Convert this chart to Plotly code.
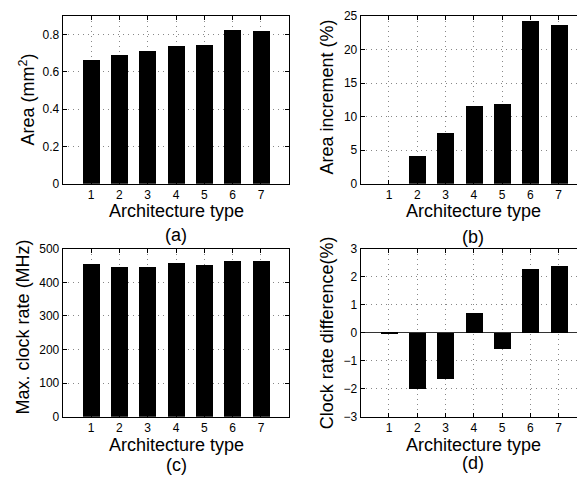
import plotly.graph_objects as go

arch_types = [1, 2, 3, 4, 5, 6, 7]
area_mm2 = [0.664, 0.690, 0.713, 0.739, 0.743, 0.823, 0.817]
area_increment_pct = [0.0, 4.1, 7.5, 11.6, 11.9, 24.2, 23.6]
max_clock_mhz = [454, 445, 447, 457, 451, 464, 464]
clock_diff_pct = [-0.04, -2.02, -1.64, 0.70, -0.56, 2.29, 2.39]

# page body has an 8px margin; figure is sized to fill the rest of the window
OFF = 8
W, H = 577, 470
FONT = "Liberation Sans, Arial, Helvetica, sans-serif"

# reference pixel boxes for each panel (left, right, top, bottom) in window coords
boxes = {
    "a": (62.7, 289.3, 9, 182),
    "b": (360.7, 587, 9, 182),
    "c": (62.7, 289.3, 249, 422),
    "d": (360.7, 587, 249, 422),
}

fig = go.Figure()

panels = [
    ("a", area_mm2, "x", "y", [0, 0.9], [0, 0.2, 0.4, 0.6, 0.8], ["0", "0.2", "0.4", "0.6", "0.8"]),
    ("b", area_increment_pct, "x2", "y2", [0, 25], [0, 5, 10, 15, 20, 25], None),
    ("c", max_clock_mhz, "x3", "y3", [0, 500], [0, 100, 200, 300, 400, 500], None),
    ("d", clock_diff_pct, "x4", "y4", [-3, 3], [-3, -2, -1, 0, 1, 2, 3], None),
]

for key, vals, xa, ya, yr, ytv, ytt in panels:
    fig.add_trace(go.Bar(x=arch_types, y=vals, width=0.6, xaxis=xa, yaxis=ya,
                         marker=dict(color="black", line=dict(width=0)),
                         showlegend=False))

common_axis = dict(showline=True, linecolor="black", linewidth=1, ticks="inside", ticklen=4,
                   tickcolor="black", showgrid=True, gridcolor="#888", griddash="1px,4px",
                   gridwidth=1, tickfont=dict(family=FONT, size=12, color="black"), zeroline=False)

layout = dict(width=W, height=H, margin=dict(l=0, r=0, t=0, b=0), paper_bgcolor="white",
              plot_bgcolor="white", bargap=0, font=dict(family=FONT, color="black"))

names = {"a": ("xaxis", "yaxis"), "b": ("xaxis2", "yaxis2"), "c": ("xaxis3", "yaxis3"), "d": ("xaxis4", "yaxis4")}
anchors = {"a": ("x", "y"), "b": ("x2", "y2"), "c": ("x3", "y3"), "d": ("x4", "y4")}

for key, vals, xa, ya, yr, ytv, ytt in panels:
    l, r, t, b = boxes[key]
    l, r, t, b = l - OFF, r - OFF, t - OFF, b - OFF
    xn, yn = names[key]
    right_cut = r > W
    xmax = 8.0
    if right_cut:
        xmax = 8.0 * (W - l) / (r - l)
        r = W
    xd = [l / W, r / W]
    yd = [1 - b / H, 1 - t / H]
    xax = dict(common_axis, domain=xd, range=[0, xmax], tickvals=arch_types,
               anchor=anchors[key][1], mirror="ticks")
    yax = dict(common_axis, domain=yd, range=yr, tickvals=ytv, anchor=anchors[key][0],
               mirror=False if right_cut else "ticks")
    if ytt:
        yax["ticktext"] = ytt
    if key == "d":
        yax["zeroline"] = True
        yax["zerolinecolor"] = "#333"
        yax["zerolinewidth"] = 1
    layout[xn] = xax
    layout[yn] = yax

fig.update_layout(**layout)

TF = dict(family=FONT, size=18, color="black")
ann = []
def add(text, x, y, angle=0):
    ann.append(dict(text=text, x=(x - OFF) / W, y=1 - (y - OFF) / H, xref="paper", yref="paper",
                    showarrow=False, textangle=angle, font=TF, xanchor="center", yanchor="middle"))

add("Area (mm<sup>2</sup>)", 27, 95, -90)
add("Area increment (%)", 327, 93, -90)
add("Max. clock rate (MHz)", 23, 330, -90)
add("Clock rate difference(%)", 327, 336, -90)
for cx in (176, 473):
    add("Architecture type", cx, 210)
    add("Architecture type", cx, 451)
add("(a)", 176, 235)
add("(b)", 473, 237)
add("(c)", 176, 472)
add("(d)", 473, 470)

fig.update_layout(annotations=ann)
fig.write_html("out.html")
